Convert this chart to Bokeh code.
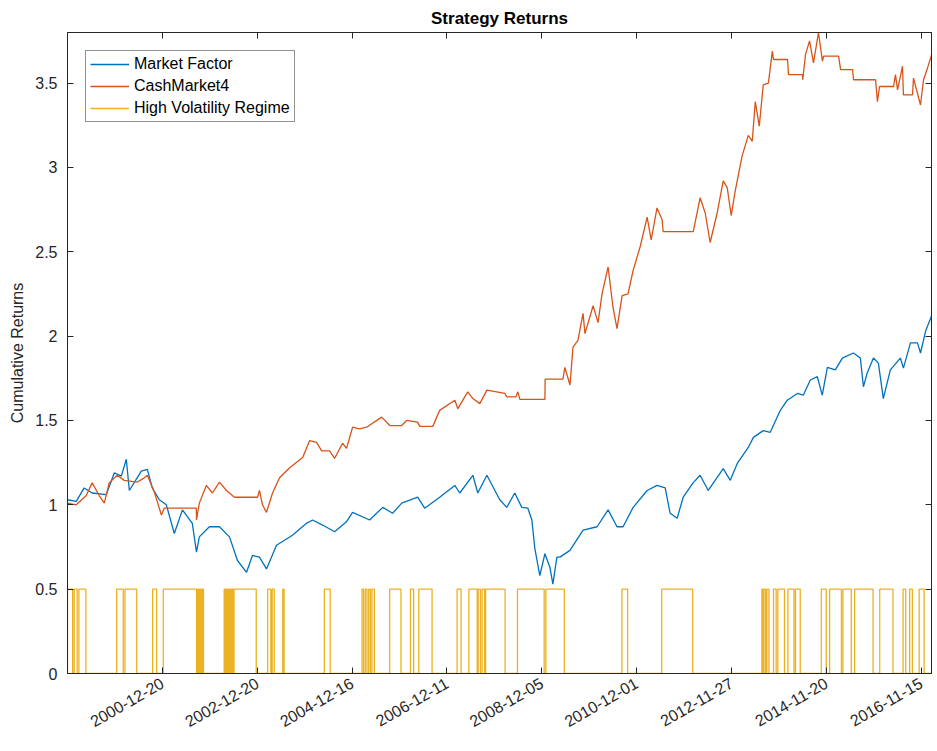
from bokeh.plotting import figure
from bokeh.models import Range1d, FixedTicker, LinearAxis, Legend, LegendItem
from bokeh.embed import file_html
from bokeh.resources import INLINE
import math

# ---------------- data (x = trading-day index) ----------------
tick_idx = [500, 1000, 1500, 2000, 2500, 3000, 3500, 4000, 4500]
tick_dates = ["2000-12-20", "2002-12-20", "2004-12-16", "2006-12-11", "2008-12-05",
              "2010-12-01", "2012-11-27", "2014-11-20", "2016-11-15"]

market_idx = [0, 46, 88, 130, 204, 247, 284, 310, 326, 389, 421, 447, 484, 521, 563, 606,
              658, 680, 695, 748, 801, 854, 896, 944, 975, 1012, 1049, 1102, 1186, 1260,
              1292, 1345, 1408, 1471, 1503, 1593, 1662, 1714, 1762, 1846, 1883, 1962, 2042,
              2068, 2137, 2163, 2211, 2279, 2316, 2358, 2395, 2427, 2448, 2464, 2490, 2517,
              2543, 2559, 2580, 2596, 2649, 2718, 2792, 2850, 2897, 2929, 2982, 3056, 3108,
              3151, 3177, 3214, 3246, 3298, 3335, 3378, 3457, 3494, 3531, 3589, 3616, 3668,
              3705, 3758, 3795, 3848, 3879, 3916, 3953, 3979, 4006, 4048, 4085, 4143, 4180,
              4196, 4217, 4249, 4275, 4301, 4338, 4391, 4407, 4444, 4481, 4497, 4524, 4555]
market_val = [1.03, 1.02, 1.10, 1.07, 1.06, 1.19, 1.17, 1.27, 1.085, 1.20, 1.21, 1.10, 1.03,
              1.00, 0.83, 0.97, 0.89, 0.72, 0.81, 0.87, 0.87, 0.81, 0.67, 0.60, 0.70, 0.69,
              0.62, 0.76, 0.82, 0.89, 0.91, 0.88, 0.84, 0.90, 0.955, 0.91, 0.985, 0.95, 1.01,
              1.045, 0.98, 1.045, 1.115, 1.07, 1.175, 1.07, 1.175, 1.03, 0.985, 1.07, 0.985,
              0.98, 0.91, 0.74, 0.58, 0.71, 0.63, 0.53, 0.69, 0.69, 0.73, 0.85, 0.87, 0.97,
              0.87, 0.87, 0.985, 1.085, 1.115, 1.10, 0.95, 0.92, 1.045, 1.13, 1.175, 1.085,
              1.215, 1.145, 1.245, 1.34, 1.40, 1.44, 1.43, 1.56, 1.62, 1.66, 1.65, 1.74, 1.76,
              1.65, 1.815, 1.80, 1.87, 1.90, 1.87, 1.70, 1.785, 1.87, 1.84, 1.63, 1.80, 1.87,
              1.81, 1.96, 1.96, 1.90, 2.03, 2.12]

cash_idx = [0, 46, 99, 130, 167, 194, 220, 262, 299, 368, 405, 421, 458, 495, 510, 679, 680,
            695, 732, 764, 801, 838, 880, 1002, 1012, 1028, 1049, 1081, 1118, 1171, 1240,
            1276, 1313, 1340, 1382, 1408, 1450, 1471, 1503, 1540, 1577, 1656, 1699, 1762,
            1788, 1846, 1857, 1926, 1962, 2042, 2058, 2110, 2137, 2174, 2211, 2306, 2316,
            2364, 2374, 2385, 2517, 2518, 2612, 2622, 2649, 2665, 2691, 2718, 2728, 2771,
            2797, 2818, 2850, 2876, 2897, 2924, 2955, 2982, 3019, 3056, 3077, 3108, 3135,
            3140, 3299, 3335, 3362, 3388, 3425, 3457, 3478, 3499, 3520, 3557, 3589, 3610,
            3626, 3647, 3668, 3695, 3716, 3722, 3796, 3801, 3875, 3876, 3891, 3912, 3933,
            3959, 3980, 3986, 4065, 4076, 4139, 4144, 4260, 4270, 4281, 4355, 4365, 4376,
            4402, 4407, 4455, 4460, 4497, 4513, 4534, 4555]
cash_val = [1.01, 1.00, 1.055, 1.13, 1.055, 1.01, 1.13, 1.175, 1.145, 1.135, 1.16, 1.175,
            1.075, 0.94, 0.98, 0.98, 0.91, 1.01, 1.115, 1.07, 1.135, 1.085, 1.045, 1.045,
            1.085, 1.00, 0.955, 1.07, 1.16, 1.22, 1.28, 1.38, 1.37, 1.32, 1.32, 1.275, 1.365,
            1.335, 1.46, 1.45, 1.46, 1.52, 1.47, 1.47, 1.50, 1.49, 1.465, 1.465, 1.56, 1.62,
            1.57, 1.67, 1.63, 1.60, 1.68, 1.66, 1.64, 1.64, 1.67, 1.625, 1.625, 1.745, 1.745,
            1.815, 1.71, 1.935, 1.975, 2.135, 2.015, 2.18, 2.08, 2.25, 2.41, 2.17, 2.045,
            2.24, 2.25, 2.39, 2.53, 2.705, 2.57, 2.76, 2.69, 2.62, 2.62, 2.82, 2.73, 2.555,
            2.73, 2.92, 2.88, 2.715, 2.86, 3.07, 3.19, 3.155, 3.39, 3.245, 3.49, 3.50, 3.69,
            3.64, 3.64, 3.55, 3.55, 3.52, 3.67, 3.75, 3.62, 3.80, 3.63, 3.66, 3.66, 3.58,
            3.58, 3.52, 3.52, 3.39, 3.48, 3.48, 3.55, 3.46, 3.60, 3.43, 3.43, 3.53, 3.37,
            3.52, 3.59, 3.665]

# high-volatility regime intervals (value 0.5 inside, 0 outside)
regime_start = [0, 35, 60, 259, 303, 449, 505, 687, 699, 710, 826, 836, 847, 857, 868, 878,
                1055, 1079, 1135, 1354, 1553, 1570, 1588, 1605, 1699, 1808, 1852, 2054, 2116,
                2165, 2186, 2204, 2372, 2522, 2923, 3133, 3661, 3671, 3687, 3722, 3745, 3798,
                3838, 3974, 4018, 4088, 4150, 4282, 4405, 4440, 4490]
regime_end = [27, 51, 97, 294, 365, 470, 681, 694, 706, 717, 833, 843, 854, 864, 875, 995,
              1072, 1090, 1142, 1385, 1561, 1579, 1597, 1618, 1758, 1825, 1922, 2075, 2160,
              2177, 2199, 2307, 2513, 2619, 2953, 3296, 3666, 3680, 3698, 3736, 3780, 3830,
              3863, 4000, 4080, 4132, 4247, 4352, 4419, 4454, 4516]
regime_level = 0.5
x_end = 4555

# build step line for the regime series
reg_x, reg_y = [], []
for s, e in zip(regime_start, regime_end):
    reg_x += [s, s, e, e]
    reg_y += [0, regime_level, regime_level, 0]
reg_x.append(x_end)
reg_y.append(0)

# ---------------- figure ----------------
FONT = "Liberation Sans"
TXT = "#262626"

p = figure(width=937, height=748, output_backend="svg", toolbar_location=None,
           x_range=Range1d(0, x_end), y_range=Range1d(0, 3.8),
           min_border_left=67, min_border_right=6, min_border_top=32, min_border_bottom=75)
p.title.text = "Strategy Returns"
p.title.align = "center"
p.title.text_font = FONT
p.title.text_font_size = "17px"
p.title.text_font_style = "bold"
p.title.text_color = "#000000"
p.title.offset = 0

p.xgrid.visible = False
p.ygrid.visible = False
p.outline_line_color = TXT
p.outline_line_width = 1

r1 = p.line(market_idx, market_val, line_color="#0072BD", line_width=1.3)
r2 = p.line(cash_idx, cash_val, line_color="#D95319", line_width=1.3)
r3 = p.line(reg_x, reg_y, line_color="#EDB120", line_width=1.3)

yticks = [0, 0.5, 1, 1.5, 2, 2.5, 3, 3.5]
ylabels = {0: "0", 0.5: "0.5", 1: "1", 1.5: "1.5", 2: "2", 2.5: "2.5", 3: "3", 3.5: "3.5"}

def style_axis(ax):
    ax.axis_line_color = TXT
    ax.major_tick_line_color = TXT
    ax.major_tick_in = 6
    ax.major_tick_out = 0
    ax.minor_tick_line_color = None
    ax.major_label_text_font = FONT
    ax.major_label_text_font_size = "16px"
    ax.major_label_text_color = TXT

xa = p.xaxis[0]
xa.ticker = FixedTicker(ticks=tick_idx)
xa.major_label_overrides = {t: d for t, d in zip(tick_idx, tick_dates)}
xa.major_label_orientation = math.pi / 6
xa.major_label_standoff = 8
style_axis(xa)

ya = p.yaxis[0]
ya.ticker = FixedTicker(ticks=yticks)
ya.major_label_overrides = ylabels
ya.major_label_standoff = 10
ya.axis_label = "Cumulative Returns"
ya.axis_label_text_font = FONT
ya.axis_label_text_font_size = "16px"
ya.axis_label_text_font_style = "normal"
ya.axis_label_text_color = TXT
ya.axis_label_standoff = 6
style_axis(ya)

top = LinearAxis(ticker=FixedTicker(ticks=tick_idx))
style_axis(top)
top.major_label_overrides = {t: "" for t in tick_idx}
top.major_label_standoff = 0
p.add_layout(top, "above")

right = LinearAxis(ticker=FixedTicker(ticks=yticks))
style_axis(right)
right.major_label_overrides = {t: "" for t in yticks}
right.major_label_standoff = 0
p.add_layout(right, "right")

legend = Legend(items=[LegendItem(label="Market Factor", renderers=[r1]),
                       LegendItem(label="CashMarket4", renderers=[r2]),
                       LegendItem(label="High Volatility Regime", renderers=[r3])],
                location="top_left")
legend.margin = 18
legend.padding = 4
legend.spacing = 4
legend.glyph_width = 39
legend.glyph_height = 18
legend.label_height = 18
legend.label_standoff = 5
legend.label_text_font = FONT
legend.label_text_font_size = "16px"
legend.label_text_color = "#000000"
legend.border_line_color = TXT
legend.border_line_width = 1
legend.background_fill_color = "white"
legend.background_fill_alpha = 1
p.add_layout(legend, "center")

open("out.html", "w").write(file_html(p, INLINE))
